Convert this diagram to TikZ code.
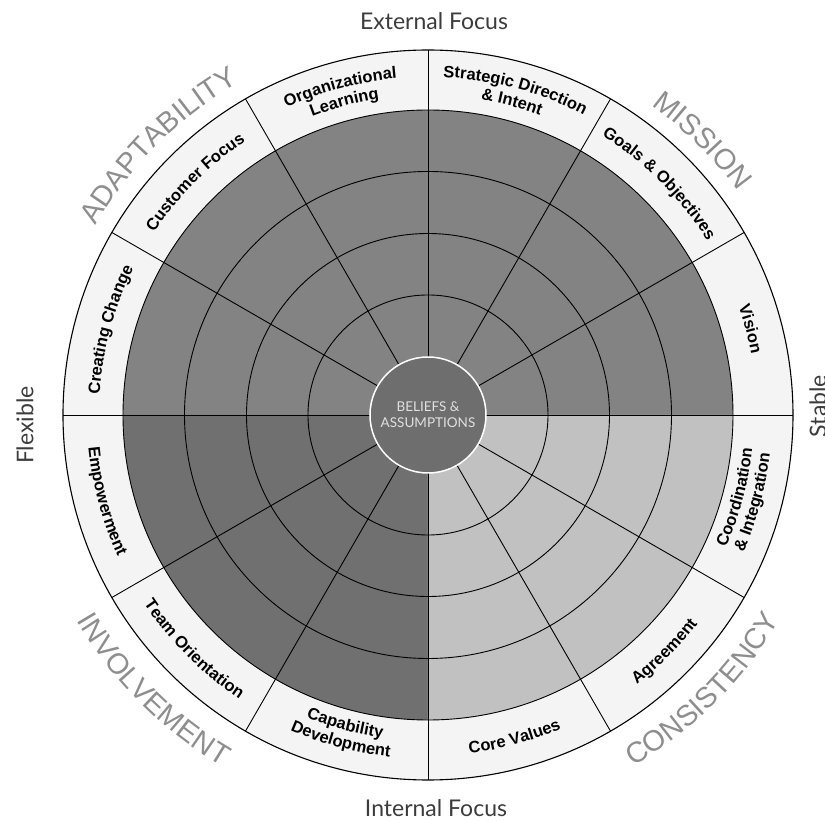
\documentclass[tikz,border=0pt]{standalone}
\usepackage{fontspec}
\setmainfont{Lato}
\newfontfamily\labfont{Liberation Sans}
\usetikzlibrary{decorations.text}
\definecolor{topgray}{HTML}{838383}
\definecolor{blgray}{HTML}{707070}
\definecolor{brgray}{HTML}{C1C1C1}
\definecolor{bandgray}{HTML}{F4F4F4}
\definecolor{coregray}{HTML}{6E6E6E}
\definecolor{dimtext}{HTML}{8E8E8E}
\definecolor{axistext}{HTML}{3C3C3C}
\newcommand\secfont{\labfont\bfseries\fontsize{16.5}{16.5}\selectfont}
\newcommand\outfont{\labfont\fontsize{29}{29}\selectfont}
\newcommand\toptext[5]{\path[decorate,decoration={text along path,text align=center,text color=#5,text={|#4|#3}}] (#2+40:#1pt) arc[start angle=#2+40,end angle=#2-40,radius=#1pt];}
\newcommand\bottext[5]{\path[decorate,decoration={text along path,text align=center,text color=#5,text={|#4|#3}}] (#2-40:#1pt) arc[start angle=#2-40,end angle=#2+40,radius=#1pt];}
\begin{document}
\begin{tikzpicture}[x=1pt,y=1pt,
  ring/.style={draw=black,line width=0.9pt},
  spoke/.style={draw=black,line width=0.9pt},
  axislabel/.style={text=axistext,font=\fontsize{23}{27}\selectfont,inner sep=0pt}]
\useasboundingbox (-428,-406) rectangle (397,415);
% outer band
\path[fill=bandgray] (0,0) circle[radius=365pt];
% quadrant fills
\fill[topgray] (0,0) -- (0:305pt) arc[start angle=0,end angle=180,radius=305pt] -- cycle;
\fill[blgray] (0,0) -- (180:305pt) arc[start angle=180,end angle=270,radius=305pt] -- cycle;
\fill[brgray] (0,0) -- (270:305pt) arc[start angle=270,end angle=360,radius=305pt] -- cycle;
% rings
\foreach \r in {305,243.5,181.5,120} {\draw[ring] (0,0) circle[radius=\r pt];}
\draw[ring,line width=1.1pt] (0,0) circle[radius=365pt];
% spokes
\foreach \a in {0,30,...,330} {\draw[spoke] (\a:58pt) -- (\a:365pt);}
% core
\node[circle,fill=coregray,draw=white,line width=1.5pt,minimum size=116pt,inner sep=0pt,
  text=white!88!black,font=\fontsize{13.5}{16}\selectfont,align=center] (core) at (0,0) {BELIEFS \&\\ASSUMPTIONS};
% sector labels (top half)
\toptext{338}{75}{Strategic Direction}{\secfont}{black}
\toptext{320}{75}{{\&} Intent}{\secfont}{black}
\toptext{329}{45}{Goals {\&} Objectives}{\secfont}{black}
\toptext{329}{15}{Vision}{\secfont}{black}
\toptext{338}{105}{Organizational}{\secfont}{black}
\toptext{320}{105}{Learning}{\secfont}{black}
\toptext{329}{135}{Customer Focus}{\secfont}{black}
\toptext{329}{165}{Creating Change}{\secfont}{black}
% sector labels (bottom half)
\bottext{341}{195}{Empowerment}{\secfont}{black}
\bottext{341}{225}{Team Orientation}{\secfont}{black}
\bottext{326}{255}{Capability}{\secfont}{black}
\bottext{344}{255}{Development}{\secfont}{black}
\bottext{341}{285}{Core Values}{\secfont}{black}
\bottext{341}{315}{Agreement}{\secfont}{black}
\bottext{326}{345}{Coordination}{\secfont}{black}
\bottext{344}{345}{{\&} Integration}{\secfont}{black}
% outer labels
\toptext{382}{135}{ADAPTABILITY}{\outfont}{dimtext}
\toptext{382}{45}{MISSION}{\outfont}{dimtext}
\bottext{407}{225}{INVOLVEMENT}{\outfont}{dimtext}
\bottext{407}{315}{CONSISTENCY}{\outfont}{dimtext}
% axis labels
\node[axislabel] (ext) at (6,394) {External Focus};
\node[axislabel] (int) at (8,-393) {Internal Focus};
\node[axislabel,rotate=90] (flex) at (-403,-10) {Flexible};
\node[axislabel,rotate=90] (stab) at (390,9) {Stable};
\end{tikzpicture}
\end{document}
